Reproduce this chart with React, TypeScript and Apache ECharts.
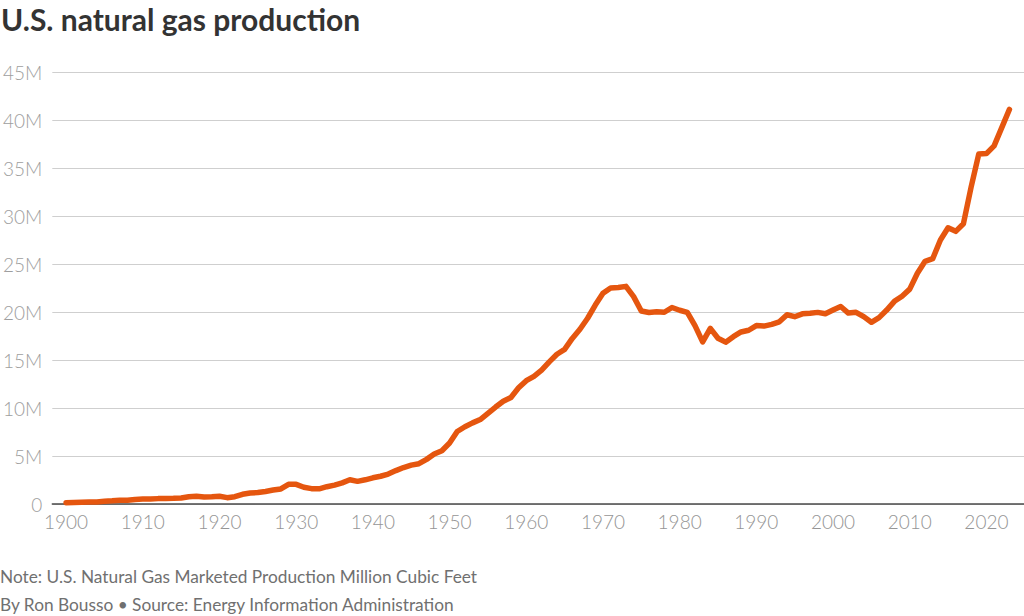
import React, { useEffect, useRef } from "react";
import * as echarts from "echarts";

// U.S. natural gas marketed production, million cubic feet (shown in millions, M)
const years: number[] = [];
for (let y = 1900; y <= 2023; y++) years.push(y);

const production: number[] = [
  // 1900-1909
  0.13, 0.15, 0.18, 0.2, 0.22, 0.28, 0.33, 0.4, 0.4, 0.48,
  // 1910-1919
  0.51, 0.51, 0.56, 0.58, 0.59, 0.63, 0.75, 0.8, 0.72, 0.75,
  // 1920-1929
  0.81, 0.66, 0.76, 1.01, 1.14, 1.19, 1.31, 1.45, 1.57, 2.05,
  // 1930-1939
  2.05, 1.75, 1.6, 1.58, 1.8, 1.97, 2.2, 2.52, 2.36, 2.52,
  // 1940-1949
  2.73, 2.89, 3.12, 3.48, 3.8, 4.05, 4.2, 4.65, 5.2, 5.55,
  // 1950-1959
  6.35, 7.55, 8.05, 8.45, 8.8, 9.45, 10.1, 10.7, 11.1, 12.1,
  // 1960-1969
  12.85, 13.3, 13.95, 14.8, 15.6, 16.1, 17.25, 18.2, 19.35, 20.72,
  // 1970-1979
  21.95, 22.5, 22.55, 22.67, 21.6, 20.11, 19.95, 20.03, 19.97, 20.47,
  // 1980-1989
  20.18, 19.96, 18.58, 16.88, 18.3, 17.27, 16.86, 17.43, 17.92, 18.1,
  // 1990-1999
  18.59, 18.53, 18.71, 18.98, 19.71, 19.51, 19.81, 19.87, 19.96, 19.81,
  // 2000-2009
  20.2, 20.57, 19.89, 19.97, 19.52, 18.93, 19.41, 20.2, 21.11, 21.65,
  // 2010-2019
  22.38, 24.04, 25.28, 25.56, 27.5, 28.77, 28.4, 29.19, 33.0, 36.45,
  // 2020-2023
  36.5, 37.3, 39.2, 41.1,
];

const yTicks = [0, 5, 10, 15, 20, 25, 30, 35, 40, 45];
const xTickYears = [1900, 1910, 1920, 1930, 1940, 1950, 1960, 1970, 1980, 1990, 2000, 2010, 2020];

const titleText = "U.S. natural gas production";
const noteText = "Note: U.S. Natural Gas Marketed Production Million Cubic Feet";
const creditText = "By Ron Bousso \u2022 Source: Energy Information Administration";

const FONT = "Lato, 'Noto Sans', sans-serif";

export default function App() {
  const ref = useRef<HTMLDivElement>(null);

  useEffect(() => {
    if (!ref.current) return;
    const chart = echarts.init(ref.current, undefined, { renderer: "svg" });
    const data = years.map((y, i) => [y, production[i]]);

    chart.setOption({
      animation: false,
      backgroundColor: "#ffffff",
      textStyle: { fontFamily: FONT },
      grid: { left: 48, right: 0, top: 72, bottom: 112, containLabel: false },
      xAxis: {
        type: "value",
        min: 1898.2,
        max: 2024.9,
        axisLine: { show: true, lineStyle: { color: "#4a4a4a", width: 1.5 } },
        axisTick: { show: false },
        splitLine: { show: false },
        axisLabel: {
          customValues: xTickYears,
          color: "#959595",
          fontSize: 19,
          fontWeight: 300,
          fontFamily: FONT,
          margin: 8,
          formatter: (v: number) => String(v),
        },
      },
      yAxis: {
        type: "value",
        min: 0,
        max: 45,
        interval: 5,
        axisLine: { show: false },
        axisTick: { show: false },
        splitLine: { show: true, lineStyle: { color: "#cfcfcf", width: 1.2 } },
        axisLabel: {
          color: "#9e9e9e",
          fontSize: 19,
          fontWeight: 300,
          fontFamily: FONT,
          margin: 10,
          formatter: (v: number) => (yTicks.includes(v) ? (v === 0 ? "0" : v + "M") : ""),
        },
      },
      series: [
        {
          type: "line",
          data,
          showSymbol: false,
          symbol: "none",
          lineStyle: { color: "#e5560f", width: 5.5, cap: "round", join: "round" },
          z: 3,
        },
      ],
      graphic: [
        {
          type: "text",
          left: 1,
          top: 4,
          style: {
            text: titleText,
            fill: "#333333",
            font: `bold 30px ${FONT}`,
          },
        },
        {
          type: "text",
          left: 0,
          top: 568,
          style: {
            text: noteText,
            fill: "#707070",
            font: `17.3px ${FONT}`,
          },
        },
        {
          type: "text",
          left: 0,
          top: 596,
          style: {
            text: creditText,
            fill: "#707070",
            font: `17.3px ${FONT}`,
          },
        },
      ],
    });

    return () => chart.dispose();
  }, []);

  return (
    <div
      ref={ref}
      style={{ position: "fixed", left: 0, top: 0, width: 1024, height: 616, background: "#fff" }}
    />
  );
}
